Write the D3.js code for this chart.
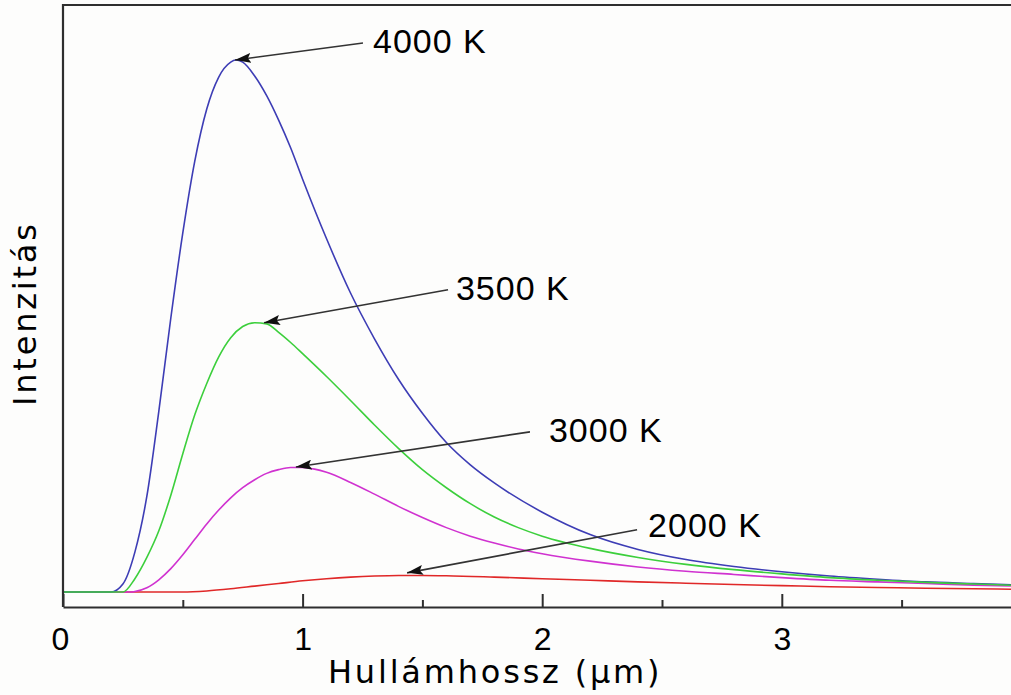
<!DOCTYPE html>
<html><head><meta charset="utf-8">
<script src="https://cdn.jsdelivr.net/npm/d3@7"></script>
<style>body{margin:0;background:#fdfdfc;} svg{display:block;}</style>
</head><body><svg id="c" width="1011" height="695"></svg>
<script>
// ---- data (intensity in arbitrary units, 4000 K peak = 100) ----
const wavelength4000 = [0, 0.15, 0.2, 0.25, 0.3, 0.35, 0.4, 0.45, 0.5, 0.55, 0.6, 0.65, 0.7, 0.72, 0.75, 0.8, 0.85, 0.9, 0.95, 1.0, 1.1, 1.2, 1.3, 1.4, 1.5, 1.6, 1.7, 1.8, 2.0, 2.2, 2.4, 2.6, 2.8, 3.0, 3.2, 3.4, 3.6, 3.8, 4.0];
const intensity4000  = [0, 0, 0, 1.5, 7.5, 18.0, 34.0, 51.5, 67.5, 81.0, 90.8, 96.8, 99.6, 100, 99.6, 97.0, 93.3, 88.7, 83.5, 77.6, 66.4, 56.2, 47.6, 40.0, 33.6, 28.1, 23.9, 20.5, 15.0, 10.8, 8.0, 6.1, 4.8, 3.8, 3.0, 2.4, 1.9, 1.6, 1.3];

const wavelength3500 = [0, 0.25, 0.3, 0.35, 0.4, 0.45, 0.5, 0.55, 0.6, 0.65, 0.7, 0.75, 0.8, 0.85, 0.9, 0.95, 1.0, 1.1, 1.2, 1.3, 1.4, 1.5, 1.6, 1.7, 1.8, 1.9, 2.0, 2.2, 2.4, 2.6, 2.8, 3.0, 3.2, 3.4, 3.6, 3.8, 4.0];
const intensity3500  = [0, 0, 2.5, 6.5, 11.5, 18.2, 26.0, 33.3, 39.2, 44.2, 47.8, 49.9, 50.6, 50.4, 48.8, 46.9, 44.8, 40.5, 36.0, 31.4, 27.0, 23.0, 19.6, 16.6, 14.1, 12.1, 10.5, 8.2, 6.5, 5.2, 4.2, 3.4, 2.7, 2.2, 1.8, 1.5, 1.2];

const wavelength3000 = [0, 0.28, 0.3, 0.35, 0.4, 0.45, 0.5, 0.55, 0.6, 0.65, 0.7, 0.75, 0.8, 0.85, 0.9, 0.95, 1.0, 1.05, 1.1, 1.2, 1.3, 1.4, 1.5, 1.6, 1.7, 1.8, 1.9, 2.0, 2.2, 2.4, 2.6, 2.8, 3.0, 3.2, 3.4, 3.6, 3.8, 4.0];
const intensity3000  = [0, 0, 0.1, 0.8, 2.3, 4.4, 7.0, 9.9, 12.8, 15.4, 17.7, 19.6, 21.1, 22.3, 23.0, 23.4, 23.4, 23.1, 22.5, 20.6, 18.4, 16.1, 14.0, 12.1, 10.5, 9.2, 8.1, 7.2, 5.8, 4.7, 3.9, 3.3, 2.7, 2.2, 1.9, 1.6, 1.3, 1.1];

const wavelength2000 = [0, 0.5, 0.6, 0.7, 0.8, 0.9, 1.0, 1.1, 1.2, 1.3, 1.4, 1.5, 1.6, 1.8, 2.0, 2.2, 2.4, 2.6, 2.8, 3.0, 3.2, 3.4, 3.6, 3.8, 4.0];
const intensity2000  = [0, 0, 0.2, 0.6, 1.1, 1.6, 2.1, 2.5, 2.8, 3.0, 3.1, 3.1, 3.05, 2.8, 2.5, 2.2, 1.9, 1.65, 1.4, 1.2, 1.0, 0.85, 0.7, 0.6, 0.5];

const seriesLabels = ["2000 K", "3000 K", "3500 K", "4000 K"];
const seriesColors = ["#e02828", "#d032d0", "#3ccf3c", "#3d3db5"];

const xMajorTicks = [0, 1, 2, 3];
const xMinorTicks = [0.5, 1.5, 2.5, 3.5];
const xTickLabels = ["0", "1", "2", "3"];
const xTitle = "Hullámhossz (µm)";
const yTitle = "Intenzitás";

// annotations: label text, arrow tip (peak), arrow tail, label anchor (data units)
const annotLabels = ["4000 K", "3500 K", "3000 K", "2000 K"];
const annotTipX  = [0.718, 0.839, 0.972, 1.436];
const annotTipY  = [100, 50.6, 23.5, 3.6];
const annotTailX = [1.252, 1.607, 1.949, 2.396];
const annotTailY = [103.2, 56.8, 30.1, 11.7];
const annotTextX = [1.294, 1.640, 2.028, 2.442];
const annotTextY = [101.3, 54.9, 28.2, 10.3];

// ---- layout ----
const W = 1011, H = 695;
const plotLeft = 63, plotTop = 5, axisY = 607;
const svg = d3.select("#c");
svg.append("rect").attr("width", W).attr("height", H).attr("fill", "#fdfdfc");

const x = d3.scaleLinear().domain([0, 4]).range([plotLeft, 1021.4]);
const y = d3.scaleLinear().domain([0, 100]).range([592, 60]);

svg.append("clipPath").attr("id", "clip").append("rect")
  .attr("x", plotLeft).attr("y", plotTop).attr("width", W - plotLeft).attr("height", axisY - plotTop);

// curves (drawn red, magenta, blue, green)
const series = [
  [wavelength2000, intensity2000, seriesColors[0]],
  [wavelength3000, intensity3000, seriesColors[1]],
  [wavelength4000, intensity4000, seriesColors[3]],
  [wavelength3500, intensity3500, seriesColors[2]]
];
const line = d3.line().x(d => x(d[0])).y(d => y(d[1])).curve(d3.curveMonotoneX);
const gCurves = svg.append("g").attr("clip-path", "url(#clip)");
series.forEach(s => {
  const pts = s[0].map((w, j) => [w, s[1][j]]);
  gCurves.append("path").datum(pts).attr("d", line)
    .attr("fill", "none").attr("stroke", s[2]).attr("stroke-width", 1.6);
});

// frame (left + top)
svg.append("path")
  .attr("d", `M${plotLeft},${axisY}V${plotTop}H${W + 5}`)
  .attr("fill", "none").attr("stroke", "#2e2e2e").attr("stroke-width", 2.2);

// x axis
const xAxis = d3.axisBottom(x).tickValues(xMajorTicks).tickSizeInner(-13).tickSizeOuter(0)
  .tickPadding(20).tickFormat((d, i) => xTickLabels[i]);
const gx = svg.append("g").attr("transform", `translate(0,${axisY})`).call(xAxis);
gx.select(".domain").attr("stroke", "#2e2e2e").attr("stroke-width", 2.2);
gx.selectAll(".tick line").attr("stroke", "#2e2e2e").attr("stroke-width", 2);
gx.selectAll(".tick text").attr("fill", "#000")
  .style("font-family", "'Liberation Sans', Arial, sans-serif").style("font-size", "32px")
  .attr("dx", (d, i) => i === 0 ? -3 : 0);

const xMinor = d3.axisBottom(x).tickValues(xMinorTicks).tickSizeInner(-7).tickSizeOuter(0).tickFormat("");
const gm = svg.append("g").attr("transform", `translate(0,${axisY})`).call(xMinor);
gm.select(".domain").remove();
gm.selectAll(".tick line").attr("stroke", "#2e2e2e").attr("stroke-width", 2);

// axis titles
svg.append("text").attr("x", 328).attr("y", 683)
  .style("font-family", "'DejaVu Sans', Verdana, sans-serif").style("font-size", "32px")
  .style("letter-spacing", "2.8px").attr("fill", "#000").text(xTitle);
svg.append("text").attr("transform", "translate(36,406) rotate(-90)")
  .style("font-family", "'DejaVu Sans', Verdana, sans-serif").style("font-size", "32px")
  .style("letter-spacing", "2.8px").attr("fill", "#000").text(yTitle);

// arrowhead marker
svg.append("defs").append("marker").attr("id", "arr")
  .attr("viewBox", "0 0 16 10").attr("refX", 16).attr("refY", 5)
  .attr("markerWidth", 16).attr("markerHeight", 10).attr("markerUnits", "userSpaceOnUse")
  .attr("orient", "auto")
  .append("path").attr("d", "M0,0L16,5L0,10L3,5Z").attr("fill", "#111");

// annotations
annotLabels.forEach((lab, i) => {
  svg.append("line")
    .attr("x1", x(annotTailX[i])).attr("y1", y(annotTailY[i]))
    .attr("x2", x(annotTipX[i])).attr("y2", y(annotTipY[i]))
    .attr("stroke", "#333").attr("stroke-width", 1.6).attr("marker-end", "url(#arr)");
  svg.append("text").attr("x", x(annotTextX[i])).attr("y", y(annotTextY[i]))
    .style("font-family", "'Liberation Sans', Arial, sans-serif").style("font-size", "34px")
    .style("letter-spacing", "1px").attr("fill", "#000").text(lab);
});
</script>
</body></html>
